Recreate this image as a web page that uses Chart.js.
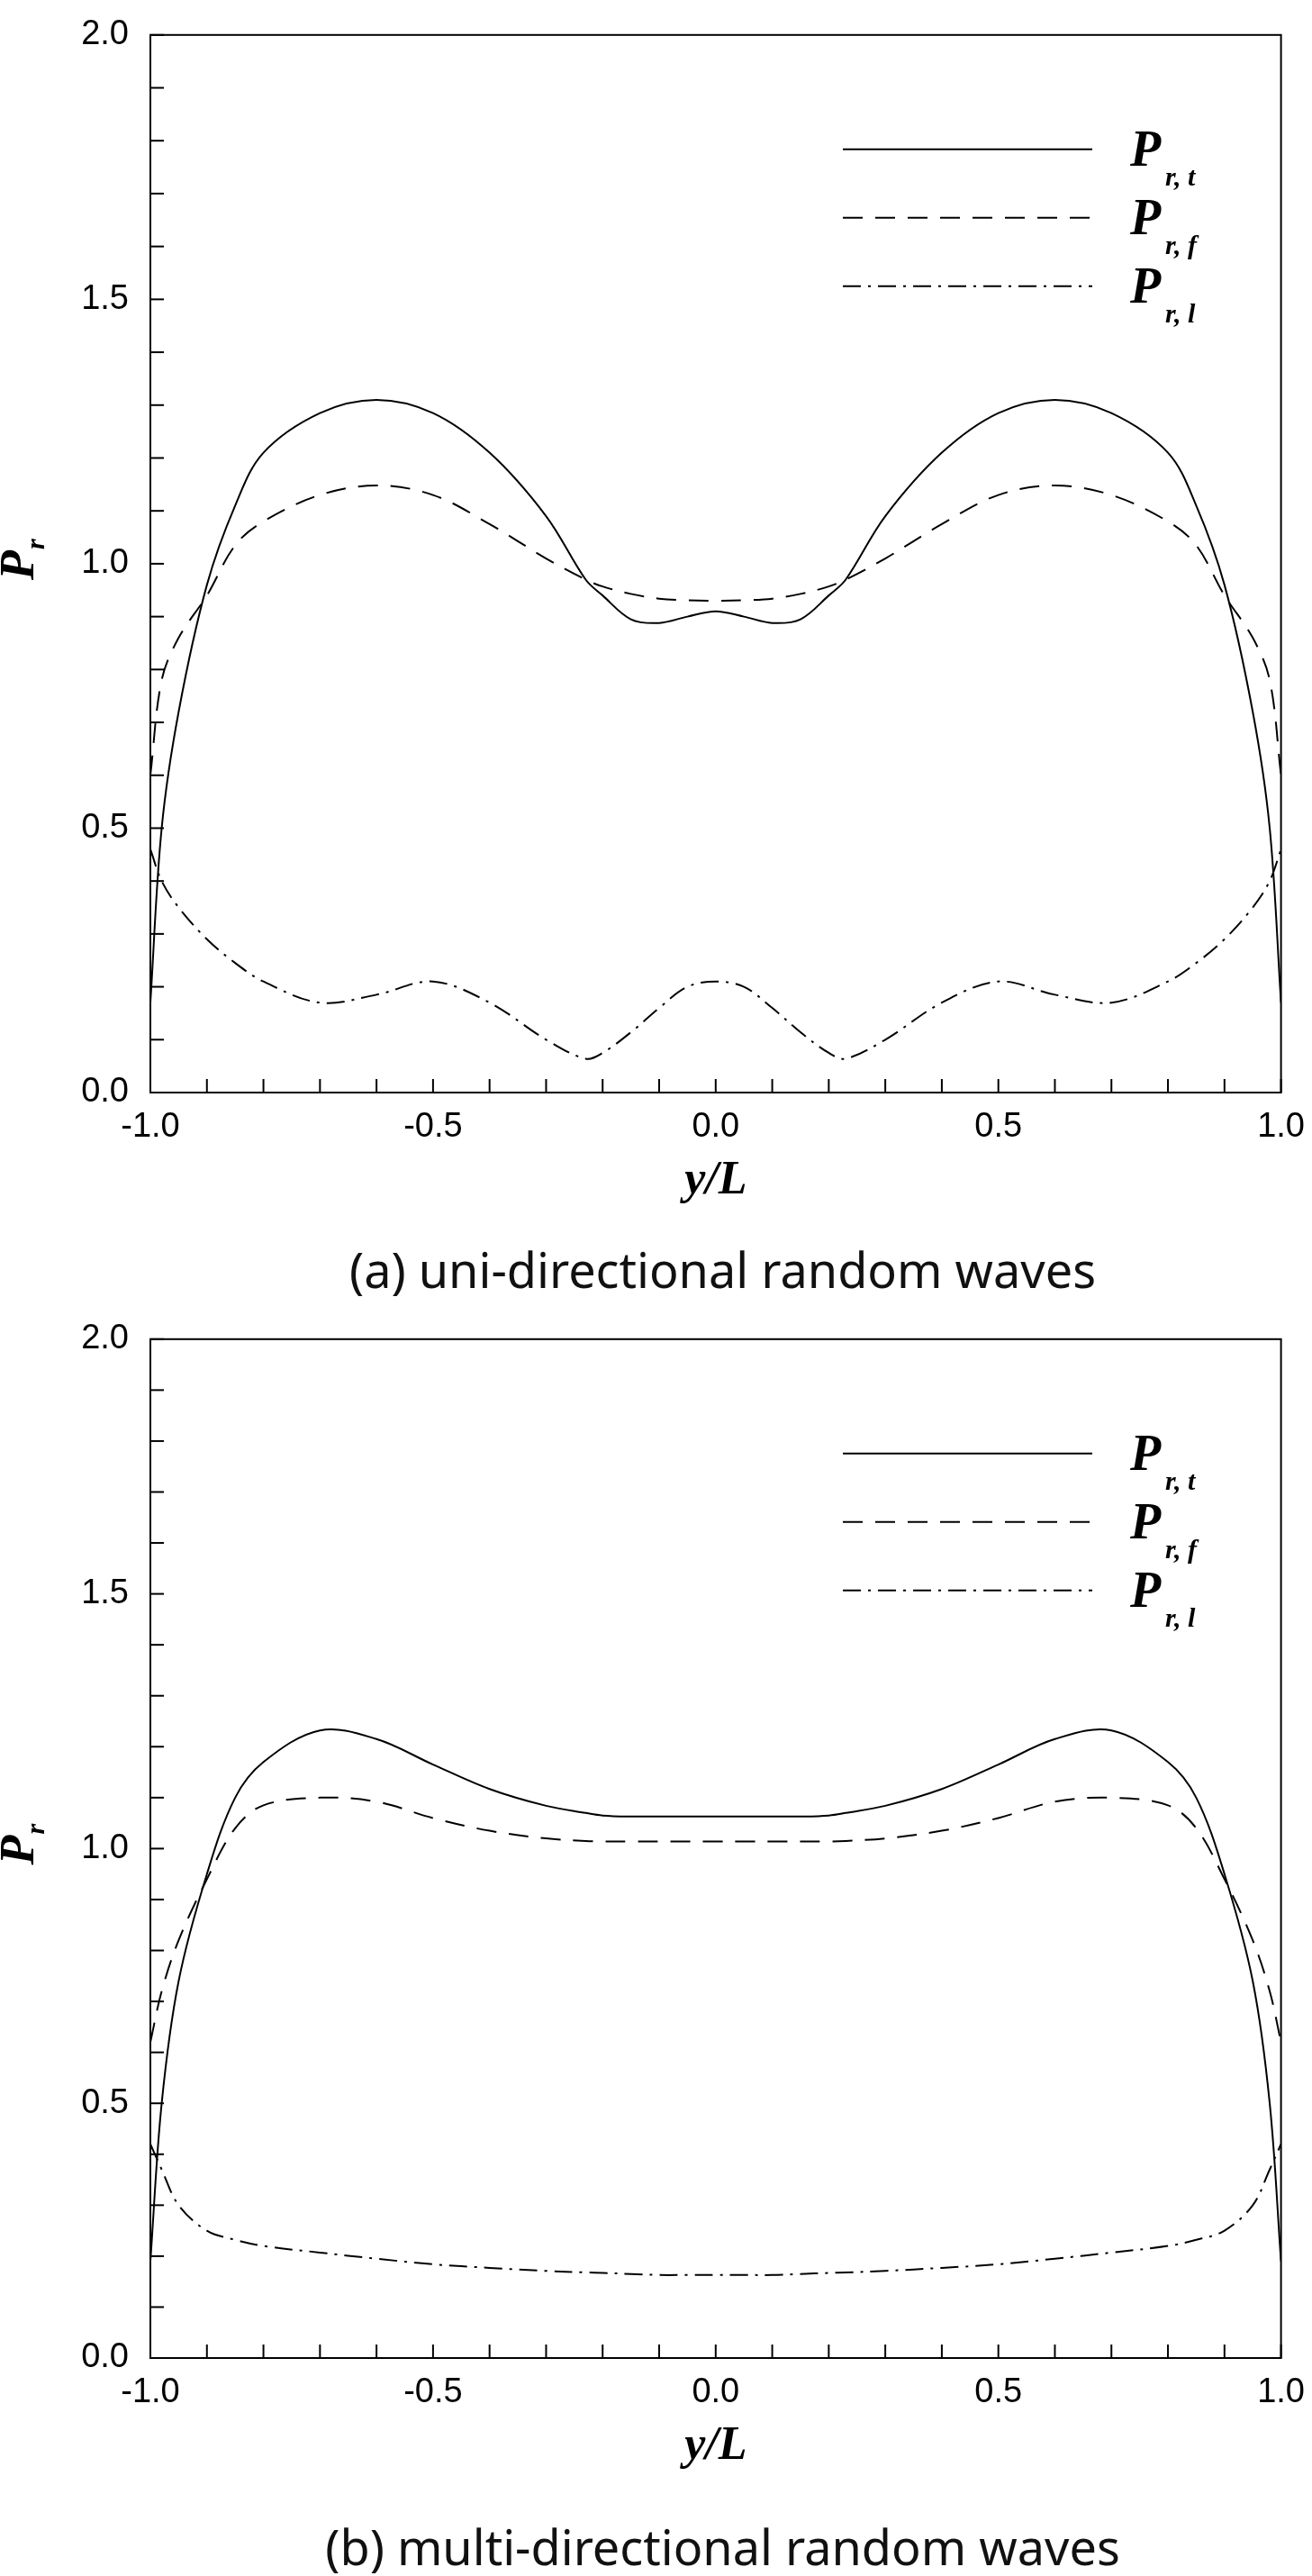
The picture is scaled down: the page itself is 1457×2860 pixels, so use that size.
<!DOCTYPE html>
<html lang="en">
<head>
<meta charset="UTF-8" />
<title>Pr vs y/L</title>
<script src="https://cdn.jsdelivr.net/npm/chart.js@4"></script>
<style>
  body { margin:0; background:#fff; width:1457px; height:2860px; position:relative; overflow:hidden; }
  .wrap { position:absolute; left:0; width:1457px; height:1340px; }
  .cap { position:absolute; left:0; width:1605px; text-align:center; font-family:"Noto Sans", sans-serif; font-size:54px; color:#111; }
</style>
</head>
<body>
<div class="wrap" style="top:0"><canvas id="chartA"></canvas></div>
<div class="cap" style="top:1372px">(a) uni-directional random waves</div>
<div class="wrap" style="top:1448px"><canvas id="chartB"></canvas></div>
<div class="cap" style="top:2790px">(b) multi-directional random waves</div>
<script>
// half-profile positions (curves are symmetric about y/L = 0)
const halfX = [-1, -0.98, -0.95, -0.9, -0.85, -0.8, -0.7, -0.6, -0.5, -0.4, -0.3, -0.23, -0.2, -0.15, -0.1, -0.05, 0];

// (a) uni-directional
const uniTotal   = [0.17, 0.50, 0.72, 0.96, 1.11, 1.21, 1.285, 1.31, 1.285, 1.21, 1.09, 0.97, 0.94, 0.895, 0.888, 0.90, 0.91];
const uniFront   = [0.60, 0.78, 0.86, 0.94, 1.035, 1.08, 1.13, 1.148, 1.13, 1.075, 1.01, 0.97, 0.957, 0.943, 0.934, 0.931, 0.93];
const uniLateral = [0.46, 0.40, 0.35, 0.29, 0.245, 0.21, 0.17, 0.185, 0.21, 0.17, 0.10, 0.064, 0.075, 0.114, 0.16, 0.20, 0.21];

// (b) multi-directional
const mulTotal   = [0.19, 0.50, 0.74, 0.95, 1.10, 1.17, 1.232, 1.215, 1.165, 1.117, 1.084, 1.07, 1.065, 1.063, 1.063, 1.063, 1.063];
const mulFront   = [0.62, 0.72, 0.82, 0.94, 1.04, 1.085, 1.10, 1.092, 1.06, 1.035, 1.02, 1.015, 1.014, 1.014, 1.014, 1.014, 1.014];
const mulLateral = [0.42, 0.37, 0.30, 0.25, 0.232, 0.22, 0.207, 0.195, 0.184, 0.177, 0.171, 0.168, 0.167, 0.165, 0.163, 0.163, 0.163];

const legendSubs = ['r, t', 'r, f', 'r, l'];
const dashes = [[], [22, 14], [20, 8, 3, 8]];

function mirror(ys) {
  const pts = halfX.map((x, i) => ({ x: x, y: ys[i] }));
  for (let i = halfX.length - 2; i >= 0; i--) pts.push({ x: -halfX[i], y: ys[i] });
  return pts;
}

const deco = {
  id: 'deco',
  afterDraw(chart) {
    const c = chart.ctx, a = chart.chartArea;
    const xs = chart.scales.x, ys = chart.scales.y;
    c.save();
    c.strokeStyle = '#000';
    c.lineWidth = 2;
    c.strokeRect(a.left, a.top, a.right - a.left, a.bottom - a.top);
    // inward ticks every 0.1
    for (let i = -10; i <= 10; i++) {
      const px = xs.getPixelForValue(i / 10);
      c.beginPath(); c.moveTo(px, a.bottom); c.lineTo(px, a.bottom - 15); c.stroke();
    }
    for (let i = 0; i <= 20; i++) {
      const py = ys.getPixelForValue(i / 10);
      c.beginPath(); c.moveTo(a.left, py); c.lineTo(a.left + 15, py); c.stroke();
    }
    // axis titles
    c.fillStyle = '#000';
    c.font = 'italic bold 52px "Liberation Serif"';
    c.textAlign = 'center';
    c.fillText('y/L', (a.left + a.right) / 2, a.bottom + 112);
    c.save();
    c.translate(a.left - 130, ys.getPixelForValue(1.0));
    c.rotate(-Math.PI / 2);
    c.textAlign = 'left';
    c.font = 'italic bold 54px "Liberation Serif"';
    c.fillText('P', -18, 0);
    c.font = 'italic bold 30px "Liberation Serif"';
    c.fillText('r', 16, 12);
    c.restore();
    // legend
    chart.data.datasets.forEach((ds, i) => {
      const ly = a.top + 127 + i * 76;
      c.setLineDash(dashes[i]);
      c.lineWidth = 2;
      c.beginPath(); c.moveTo(936, ly); c.lineTo(1213, ly); c.stroke();
      c.setLineDash([]);
      c.textAlign = 'left';
      c.font = 'italic bold 56px "Liberation Serif"';
      c.fillText('P', 1255, ly + 18);
      c.font = 'italic bold 30px "Liberation Serif"';
      c.fillText(legendSubs[i], 1294, ly + 40);
    });
    c.restore();
  }
};

function makeChart(id, series, plotHeight) {
  new Chart(document.getElementById(id), {
    type: 'line',
    data: {
      datasets: series.map((ys, i) => ({
        data: mirror(ys),
        borderColor: '#000',
        borderWidth: 2,
        borderDash: dashes[i],
        pointRadius: 0,
        tension: 0.35,
        fill: false
      }))
    },
    options: {
      responsive: false,
      animation: false,
      devicePixelRatio: 1,
      layout: { padding: { top: 20, right: 30, left: 0, bottom: 0 } },
      plugins: { legend: { display: false }, tooltip: { enabled: false } },
      scales: {
        x: {
          type: 'linear', min: -1, max: 1,
          grid: { display: false },
          border: { display: false },
          ticks: { stepSize: 0.5, padding: 8, color: '#000',
                   font: { family: 'Liberation Sans', size: 38 },
                   callback: v => v.toFixed(1) },
          afterFit: s => { s.height = 1340 - 20 - plotHeight; }
        },
        y: {
          min: 0, max: 2,
          grid: { display: false },
          border: { display: false },
          ticks: { stepSize: 0.5, padding: 16, color: '#000',
                   font: { family: 'Liberation Sans', size: 38 },
                   callback: v => v.toFixed(1) },
          afterFit: s => { s.width = 167; }
        }
      }
    },
    plugins: [deco]
  });
}

document.querySelectorAll('canvas').forEach(cv => { cv.width = 1457; cv.height = 1340; });
makeChart('chartA', [uniTotal, uniFront, uniLateral], 1193);
makeChart('chartB', [mulTotal, mulFront, mulLateral], 1150);
</script>
</body>
</html>
